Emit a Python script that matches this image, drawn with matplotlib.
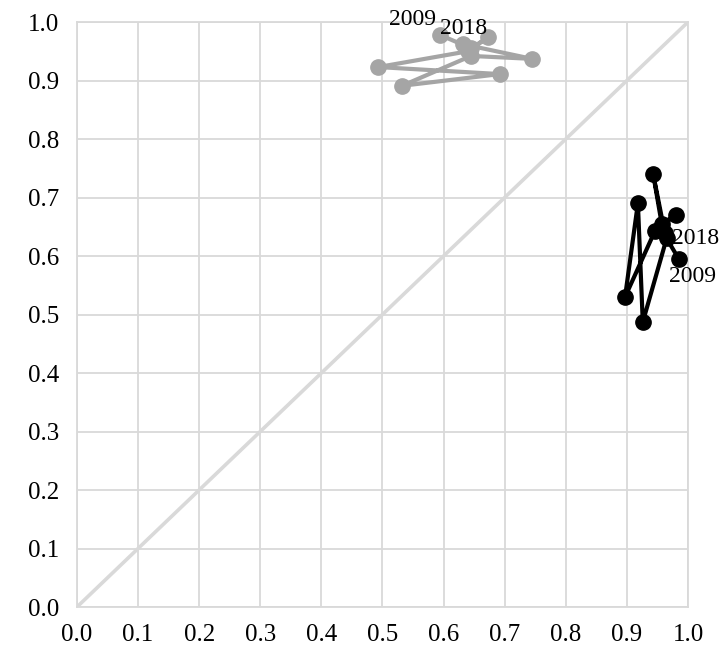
import numpy as np
import matplotlib.pyplot as plt

plt.rcParams['font.family'] = ['Liberation Serif', 'DejaVu Serif']

years = list(range(2009, 2019))

# grey series (top cluster)
grey_x = [0.594, 0.645, 0.673, 0.640, 0.493, 0.692, 0.532, 0.645, 0.745, 0.632]
grey_y = [0.978, 0.955, 0.974, 0.950, 0.923, 0.911, 0.891, 0.942, 0.937, 0.962]

# black series (right cluster)
black_x = [0.985, 0.965, 0.926, 0.918, 0.897, 0.946, 0.980, 0.957, 0.943, 0.962]
black_y = [0.595, 0.630, 0.487, 0.690, 0.530, 0.643, 0.670, 0.655, 0.740, 0.640]

ticks = np.arange(0, 1.01, 0.1)

fig = plt.figure(figsize=(7.22, 6.57), dpi=100)
ax = fig.add_axes([0.1066, 0.0761, 0.8463, 0.8904])

grid_c = '#d9d9d9'
ax.plot([0, 1], [0, 1], color=grid_c, lw=2.6, zorder=1)
ax.plot(grey_x, grey_y, color='#a5a5a5', lw=3, marker='o', ms=11, zorder=3)
ax.plot(black_x, black_y, color='black', lw=3, marker='o', ms=11, zorder=3)

lab = dict(textcoords='offset points', fontsize=17, ha='center', va='center')
ax.annotate(str(years[0]), (grey_x[0], grey_y[0]), xytext=(-20, 11), **lab)
ax.annotate(str(years[-1]), (grey_x[-1], grey_y[-1]), xytext=(0, 11), **lab)
ax.annotate(str(years[0]), (black_x[0], black_y[0]), xytext=(10, -13), **lab)
ax.annotate(str(years[-1]), (black_x[-1], black_y[-1]), xytext=(22, -4), **lab)

ax.set_xlim(0, 1)
ax.set_ylim(0, 1)
ax.set_xticks(ticks)
ax.set_yticks(ticks)
ax.set_xticklabels([f'{t:.1f}' for t in ticks], fontsize=18)
ax.set_yticklabels([f'{t:.1f}' for t in ticks], fontsize=18)
ax.tick_params(axis='y', length=0, pad=13)
ax.tick_params(axis='x', length=0, pad=12)
ax.grid(True, color=grid_c, lw=1.3)
ax.set_axisbelow(True)
for s in ax.spines.values():
    s.set_color(grid_c)
    s.set_linewidth(1.3)

fig.savefig('out.png', dpi=100)
